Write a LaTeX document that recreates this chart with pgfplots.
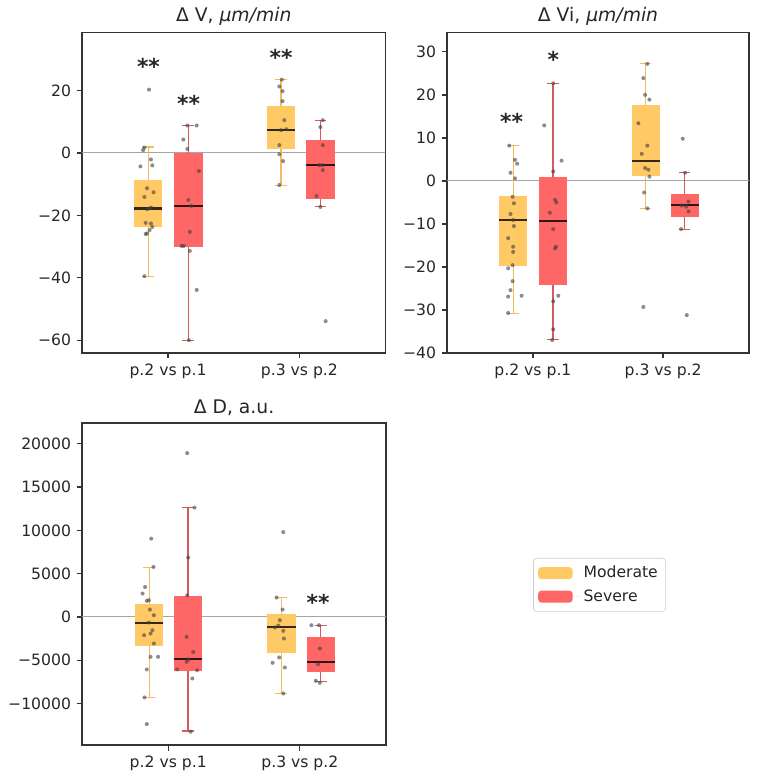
\documentclass[border=0pt]{standalone}
\usepackage{pgfplots}
\pgfplotsset{compat=1.18}
\usepgfplotslibrary{statistics}
\usepackage{fontspec}
\setmainfont{DejaVu Sans}
\definecolor{modfill}{RGB}{255,201,102}
\definecolor{sevfill}{RGB}{255,102,102}
\definecolor{modline}{RGB}{245,185,95}
\definecolor{sevline}{RGB}{215,90,90}
\newcommand{\bx}[7]{%
\addplot[forget plot, boxplot prepared={draw direction=y, draw position=#2, lower whisker=#3, lower quartile=#4, median=#5, upper quartile=#6, upper whisker=#7, box extend=0.215, whisker extend=0.09, every box/.style={draw=none, fill=#1fill}, every whisker/.style={draw=#1line, line width=0.7pt}, every median/.style={draw=black, draw opacity=0.8, line width=1.3pt}}] coordinates {};}
\tikzset{sigstar/.style={font=\bfseries\fontsize{14}{16}\selectfont, text=black!85, anchor=base, yshift=-8pt}}
\pgfplotsset{
  every axis/.append style={
    scale only axis,
    axis line style={line width=0.8pt, black!80},
    tick style={line width=0.8pt, black!80},
    major tick length=3.5pt,
    tick align=outside,
    xtick pos=left, ytick pos=left,
    ticklabel style={font=\fontsize{10}{12}\selectfont, text=black!85},
    title style={font=\fontsize{12}{14}\selectfont, text=black!85, yshift=-5pt},
    xtick={1,2}, xticklabels={p.2 vs p.1, p.3 vs p.2},
    /pgf/number format/assume math mode=true,
  },
  pts/.style={forget plot, only marks, mark=*, mark size=1.3pt, mark options={draw=black, draw opacity=0, fill=black!75, fill opacity=0.6}},
  zl/.style={forget plot, black!35, line width=0.6pt},
}
\begin{document}
\begin{tikzpicture}
\useasboundingbox (0,0) rectangle (491.52pt,-501.12pt);
% Panel 1
\begin{axis}[at={(52.48pt,-20.8pt)}, anchor=north west, width=194.2pt, height=205.1pt,
  xmin=0.345, xmax=2.655, ymin=-64.1, ymax=38.6,
  ytick={-60,-40,-20,0,20}, yticklabels={−60,−40,−20,0,20},
  title={Δ V, {\itshape μm/min}}]
\addplot[zl] coordinates {(0.3,0) (2.7,0)};
\bx{mod}{0.85}{-39.7}{-23.7}{-17.8}{-8.7}{1.9}
\bx{sev}{1.155}{-60.2}{-30.1}{-17.0}{0}{8.7}
\bx{mod}{1.86}{-10.3}{1.4}{7.5}{15.0}{23.5}
\bx{sev}{2.16}{-17.3}{-14.8}{-3.9}{4.1}{10.5}
\addplot[pts] coordinates {
(0.855,20.3) (0.82,1.7) (0.81,0.9) (0.79,-4.3) (0.87,-2.1) (0.88,-4.0) (0.84,-11.3) (0.82,-14.1) (0.89,-12.6) (0.86,-17.8) (0.84,-18.0) (0.87,-17.5) (0.83,-22.4) (0.87,-22.6) (0.88,-23.7) (0.86,-24.7) (0.84,-25.8) (0.83,-26.0) (0.82,-39.5)
(1.147,8.8) (1.218,8.8) (1.116,4.3) (1.147,1.3) (1.235,-5.8) (1.154,-15.1) (1.177,-17.0) (1.166,-25.3) (1.103,-29.8) (1.12,-29.8) (1.166,-31.4) (1.218,-43.9) (1.159,-60)
(1.866,23.5) (1.847,21.3) (1.872,19.8) (1.872,16.6) (1.885,10.5) (1.86,7.3) (1.90,7.6) (1.847,2.5) (1.847,-0.4) (1.876,-2.6) (1.847,-10.3)
(2.178,10.5) (2.16,8.3) (2.178,2.5) (2.153,-3.9) (2.178,-3.9) (2.178,-5.5) (2.13,-13.8) (2.16,-17.3) (2.2,-53.9)
};
\node[sigstar] at (axis cs:0.851,29.1) {**};
\node[sigstar] at (axis cs:1.156,17.4) {**};
\node[sigstar] at (axis cs:1.86,32) {**};
\end{axis}
% Panel 2
\begin{axis}[at={(286.08pt,-20.8pt)}, anchor=north west, width=193.3pt, height=205.1pt,
  xmin=0.34, xmax=2.66, ymin=-40, ymax=34.5,
  ytick={-40,-30,-20,-10,0,10,20,30}, yticklabels={−40,−30,−20,−10,0,10,20,30},
  title={Δ Vi, {\itshape μm/min}}]
\addplot[zl] coordinates {(0.3,0) (2.7,0)};
\bx{mod}{0.85}{-30.8}{-19.8}{-9.1}{-3.5}{8.2}
\bx{sev}{1.154}{-36.9}{-24.1}{-9.3}{0.8}{22.7}
\bx{mod}{1.865}{-6.4}{1.2}{4.7}{17.7}{27.2}
\bx{sev}{2.165}{-11.2}{-8.3}{-5.7}{-3.1}{1.9}
\addplot[pts] coordinates {
(0.818,8.2) (0.862,4.9) (0.879,4.0) (0.828,1.9) (0.862,0.6) (0.844,-3.7) (0.854,-5.2) (0.828,-7.7) (0.848,-9.1) (0.854,-10.5) (0.81,-13.3) (0.848,-15.3) (0.848,-16.5) (0.844,-19.6) (0.81,-20.3) (0.844,-23.3) (0.828,-25.4) (0.81,-26.9) (0.913,-26.7) (0.81,-30.7)
(1.156,22.7) (1.087,12.9) (1.22,4.7) (1.156,2.2) (1.17,-4.4) (1.18,-5.0) (1.13,-7.4) (1.156,-11.2) (1.177,-15.3) (1.17,-15.7) (1.195,-26.7) (1.156,-28) (1.156,-34.5) (1.148,-37)
(1.879,27.2) (1.848,23.9) (1.862,20.0) (1.895,18.9) (1.81,13.4) (1.879,8.2) (1.836,6.3) (1.862,3.0) (1.887,2.6) (1.895,1.0) (1.854,-2.7) (1.879,-6.4) (1.848,-29.3)
(2.151,9.8) (2.169,1.9) (2.195,-4.8) (2.143,-5.7) (2.177,-6.0) (2.195,-7.1) (2.138,-11.2) (2.182,-31.2)
};
\node[sigstar] at (axis cs:0.836,14.8) {**};
\node[sigstar] at (axis cs:1.156,29.3) {*};
\end{axis}
% Panel 3 (values in thousands of a.u.)
\begin{axis}[at={(52.48pt,-270.72pt)}, anchor=north west, width=194.6pt, height=206.1pt,
  xmin=0.345, xmax=2.655, ymin=-14.8, ymax=22.4,
  ytick={-10,-5,0,5,10,15,20}, yticklabels={−10000,−5000,0,5000,10000,15000,20000},
  title={Δ D, a.u.},
  legend style={at={(1.484,0.581)}, anchor=north west, draw=black!20, rounded corners=2pt, font=\fontsize{10}{12}\selectfont, text=black!85, inner sep=3pt, row sep=2pt},
  legend cell align=left,
  legend image code/.code={\fill[#1] (0pt,-3.8pt) rectangle (22pt,3.8pt); \path (0pt,0pt) -- (27pt,0pt);}]
\addplot[zl] coordinates {(0.3,0) (2.7,0)};
\bx{mod}{0.855}{-9.30}{-3.38}{-0.65}{1.545}{5.70}
\bx{sev}{1.15}{-13.18}{-6.23}{-4.91}{2.47}{12.69}
\bx{mod}{1.86}{-8.84}{-4.22}{-1.22}{0.30}{2.24}
\bx{sev}{2.16}{-7.50}{-6.42}{-5.26}{-2.31}{-0.96}
\addplot[pts] coordinates {
(0.871,9.04) (0.888,5.77) (0.824,3.46) (0.805,2.70) (0.853,1.93) (0.837,1.85) (0.861,0.85) (0.891,0.20) (0.853,-0.65) (0.88,-1.53) (0.817,-2.11) (0.866,-1.92) (0.891,-3.07) (0.866,-4.61) (0.923,-4.61) (0.837,-6.07) (0.82,-9.30) (0.837,-12.38)
(1.144,18.92) (1.2,12.62) (1.152,6.85) (1.144,2.50) (1.14,-2.31) (1.19,-4.04) (1.14,-5.19) (1.156,-4.91) (1.068,-6.07) (1.22,-6.15) (1.183,-7.11) (1.17,-13.26)
(1.874,9.80) (1.823,2.24) (1.869,0.85) (1.848,-0.38) (1.811,-1.22) (1.836,-1.00) (1.874,-1.61) (1.879,-2.49) (1.843,-4.68) (1.793,-5.30) (1.886,-5.84) (1.874,-8.84)
(2.088,-0.96) (2.146,-0.96) (2.152,-3.65) (2.139,-5.46) (2.121,-7.38) (2.152,-7.61)
};
\node[sigstar] at (axis cs:2.139,2.24) {**};
\addlegendimage{fill=modfill, draw=none}
\addlegendentry{Moderate}
\addlegendimage{fill=sevfill, draw=none}
\addlegendentry{Severe}
\end{axis}
\end{tikzpicture}
\end{document}
